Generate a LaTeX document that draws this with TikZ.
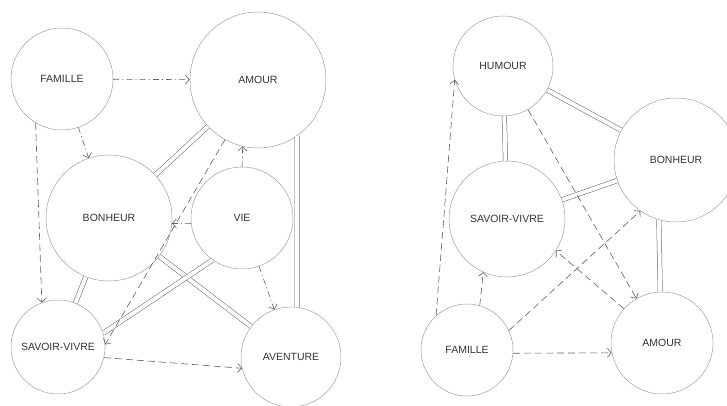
\documentclass[tikz,border=0pt]{standalone}
\usepackage{fontspec}
\setmainfont{Liberation Sans}
\usetikzlibrary{arrows.meta}

\begin{document}
\begin{tikzpicture}[x=1pt, y=-1pt,
  concept/.style={circle, draw=gray!75, line width=0.5pt, inner sep=0pt,
    text=black!80, font=\fontsize{10.5}{12}\selectfont},
  link/.style={draw=gray!75!black, line width=0.5pt, double=white, double distance=4pt},
  cause/.style={draw=gray!75!black, line width=0.6pt, dash pattern=on 7pt off 4pt,
    -{Straight Barb[length=4pt,width=9pt]}},
  hint/.style={cause, dash pattern=on 6pt off 3pt on 1.2pt off 3pt}]
  \useasboundingbox (0,0) rectangle (727,406);

  % Left map
  \node[concept, minimum size=102pt] (famL) at (62,79) {FAMILLE};
  \node[concept, minimum size=136pt] (amourL) at (258,80) {AMOUR};
  \node[concept, minimum size=126pt] (bonL) at (109,218) {BONHEUR};
  \node[concept, minimum size=102pt] (vieL) at (242,218) {VIE};
  \node[concept, minimum size=94pt] (savL) at (58,347) {SAVOIR-VIVRE};
  \node[concept, minimum size=100pt] (avL) at (291,357) {AVENTURE};

  \draw[link] (amourL) -- (bonL);
  \draw[link] (amourL.-55) -- (avL.83);
  \draw[link] (bonL) -- (savL);
  \draw[link] (bonL) -- (avL);
  \draw[link] (vieL.-125) -- (savL.17);

  \draw[hint] (famL) -- (amourL);
  \draw[hint] (famL) -- (bonL);
  \draw[hint] (vieL.90) -- (amourL.-103);
  \draw[hint] (vieL.-174) -- (bonL.-5);
  \draw[hint] (vieL) -- (avL);
  \draw[cause] (famL.-121) -- (savL.110);
  \draw[cause] (amourL.-119) -- (savL.3);
  \draw[cause] (savL.-13) -- (avL.-167);

  % Right map
  \node[concept, minimum size=100pt] (humR) at (503,66) {HUMOUR};
  \node[concept, minimum size=124pt] (bonR) at (676,160) {BONHEUR};
  \node[concept, minimum size=116pt] (savR) at (507,219) {SAVOIR-VIVRE};
  \node[concept, minimum size=92pt] (famR) at (467,350) {FAMILLE};
  \node[concept, minimum size=102pt] (amR) at (662,343) {AMOUR};

  \draw[link] (humR) -- (bonR);
  \draw[link] (humR) -- (savR);
  \draw[link] (savR) -- (bonR);
  \draw[link] (bonR.-106) -- (amR.92);

  \draw[cause] (famR.132) -- (humR.-164);
  \draw[cause] (humR) -- (amR);
  \draw[cause] (famR.74) -- (savR.-114);
  \draw[cause] (famR.25) -- (bonR.-125);
  \draw[cause] (amR.138) -- (savR.-33);
  \draw[cause] (famR.-4) -- (amR.-169);
\end{tikzpicture}
\end{document}
